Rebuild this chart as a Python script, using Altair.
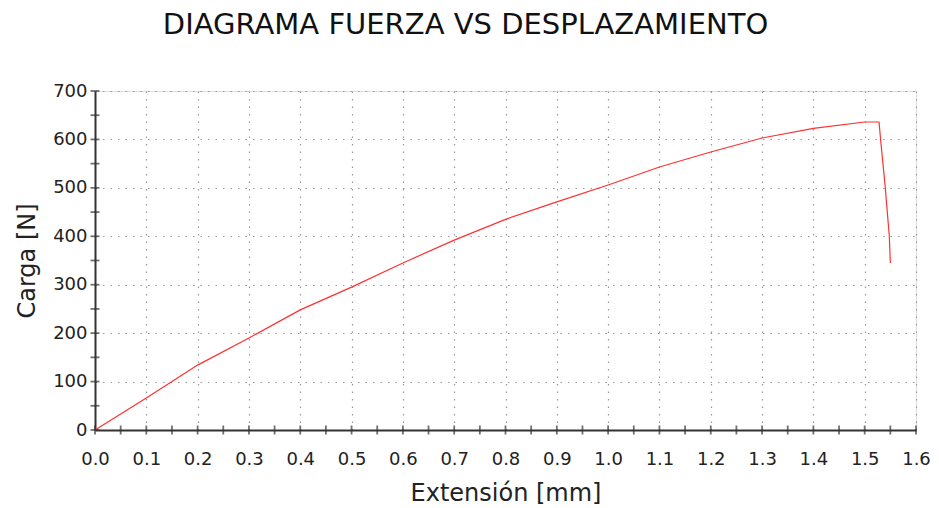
import altair as alt
import pandas as pd

# Curve data
extension_mm = [0.0, 0.1, 0.2, 0.3, 0.4, 0.5, 0.6, 0.7, 0.8, 0.9, 1.0, 1.1, 1.2,
                1.3, 1.4, 1.5, 1.528, 1.531, 1.540, 1.548, 1.550]
load_n = [0, 66, 134, 190, 248, 295, 345, 392, 435, 471, 506, 543, 574,
          603, 623, 636, 636, 600, 502, 400, 345]

# Axis ticks / labels
x_major = [0.0, 0.1, 0.2, 0.3, 0.4, 0.5, 0.6, 0.7, 0.8, 0.9, 1.0, 1.1, 1.2, 1.3, 1.4, 1.5, 1.6]
y_major = [0, 100, 200, 300, 400, 500, 600, 700]
x_minor = [round(i * 0.05, 2) for i in range(33)]
y_minor = [i * 50 for i in range(15)]

title_text = "DIAGRAMA FUERZA VS DESPLAZAMIENTO"
x_title = "Extensión [mm]"
y_title = "Carga [N]"

df = pd.DataFrame({"x": extension_mm, "y": load_n, "order": list(range(len(load_n)))})
df_xt = pd.DataFrame({"x": x_minor, "y": [0] * len(x_minor)})
df_yt = pd.DataFrame({"x": [0.0] * len(y_minor), "y": y_minor})

FONT = "DejaVu Sans"
xscale = alt.Scale(domain=[0, 1.6], nice=False, zero=False)
yscale = alt.Scale(domain=[0, 700], nice=False)

line = alt.Chart(df).mark_line(color="#ff3030", strokeWidth=1.2).encode(
    x=alt.X("x:Q", scale=xscale, title=x_title,
            axis=alt.Axis(values=x_major, format=".1f", grid=True, gridDash=[1.5, 6],
                          gridColor="#999", gridWidth=1.2, ticks=False,
                          domainColor="#333", domainWidth=2,
                          labelFont=FONT, labelFontSize=18, labelColor="#222",
                          labelPadding=20, labelFlush=False,
                          titleFont=FONT, titleFontSize=24, titleFontWeight="normal",
                          titleColor="#222", titlePadding=13)),
    y=alt.Y("y:Q", scale=yscale, title=y_title,
            axis=alt.Axis(values=y_major, grid=True, gridDash=[1.5, 6],
                          gridColor="#999", gridWidth=1.2, ticks=False,
                          domainColor="#333", domainWidth=2,
                          labelFont=FONT, labelFontSize=18, labelColor="#222",
                          labelPadding=8, labelFlush=False,
                          titleFont=FONT, titleFontSize=24, titleFontWeight="normal",
                          titleColor="#222", titlePadding=13)),
    order="order:Q",
)

xticks = alt.Chart(df_xt).mark_tick(orient="vertical", size=9, thickness=1.8,
                                    color="#333", clip=False).encode(
    x=alt.X("x:Q", scale=xscale), y=alt.Y("y:Q", scale=yscale))
yticks = alt.Chart(df_yt).mark_tick(orient="horizontal", size=9, thickness=1.8,
                                    color="#333", clip=False).encode(
    x=alt.X("x:Q", scale=xscale), y=alt.Y("y:Q", scale=yscale))

chart = alt.layer(line, xticks, yticks).properties(
    width=821, height=339,
    title=alt.TitleParams(title_text, font=FONT, fontSize=29, fontWeight="normal",
                          color="#111", anchor="middle", offset=42, dx=-40),
    autosize=alt.AutoSizeParams(type="none"),
    padding={"left": 87, "top": 83, "right": 15, "bottom": 80},
).configure_view(stroke="#555", strokeWidth=1.5).configure(background="white")

chart.save("out.html", embed_options={"renderer": "svg", "actions": False})
